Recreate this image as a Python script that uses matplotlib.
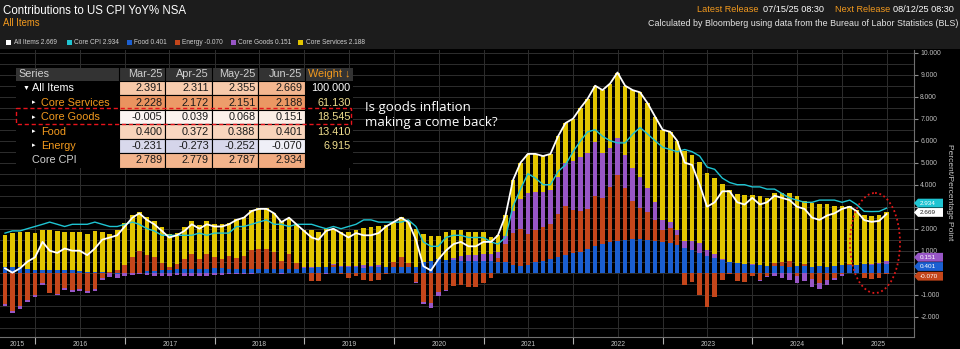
import numpy as np
import pandas as pd
import matplotlib
matplotlib.use('Agg')
import matplotlib.pyplot as plt
import matplotlib.dates as mdates
import matplotlib.transforms as mtransforms
from matplotlib.patches import Rectangle, Ellipse, Polygon
from matplotlib.ticker import MultipleLocator, FuncFormatter

plt.rcParams['font.family'] = ['Liberation Sans', 'DejaVu Sans']

# Monthly data, month-end Aug-2015 .. Jun-2025 (percent / percentage points)
months = pd.date_range('2015-08-31', '2025-06-30', freq='ME')

all_items = [
    0.2, 0.0, 0.2, 0.5, 0.7,                                        # 2015
    1.4, 1.0, 0.9, 1.1, 1.0, 1.0, 0.8, 1.1, 1.5, 1.6, 1.7, 2.1,    # 2016
    2.5, 2.7, 2.4, 2.2, 1.9, 1.6, 1.7, 1.9, 2.2, 2.0, 2.2, 2.1,    # 2017
    2.1, 2.2, 2.4, 2.5, 2.8, 2.9, 2.9, 2.7, 2.3, 2.5, 2.2, 1.9,    # 2018
    1.6, 1.5, 1.9, 2.0, 1.8, 1.6, 1.8, 1.7, 1.7, 1.8, 2.1, 2.3,    # 2019
    2.5, 2.3, 1.5, 0.3, 0.1, 0.6, 1.0, 1.3, 1.4, 1.2, 1.2, 1.4,    # 2020
    1.4, 1.7, 2.6, 4.2, 5.0, 5.4, 5.4, 5.3, 5.4, 6.2, 6.8, 7.0,    # 2021
    7.5, 7.9, 8.5, 8.3, 8.6, 9.1, 8.5, 8.3, 8.2, 7.7, 7.1, 6.5,    # 2022
    6.4, 6.0, 5.0, 4.9, 4.0, 3.0, 3.2, 3.7, 3.7, 3.2, 3.1, 3.4,    # 2023
    3.1, 3.2, 3.5, 3.4, 3.3, 3.0, 2.9, 2.5, 2.4, 2.6, 2.7, 2.9,    # 2024
    3.0, 2.8, 2.391, 2.311, 2.355, 2.669,                           # 2025
]

core_cpi = [
    1.8, 1.9, 1.9, 2.0, 2.1,
    2.2, 2.3, 2.2, 2.1, 2.2, 2.2, 2.2, 2.3, 2.2, 2.1, 2.1, 2.2,
    2.3, 2.2, 2.0, 1.9, 1.7, 1.7, 1.7, 1.7, 1.7, 1.8, 1.7, 1.8,
    1.8, 1.8, 2.1, 2.1, 2.2, 2.3, 2.4, 2.2, 2.2, 2.1, 2.2, 2.2,
    2.2, 2.1, 2.0, 2.1, 2.0, 2.1, 2.2, 2.4, 2.4, 2.3, 2.3, 2.3,
    2.3, 2.4, 2.1, 1.4, 1.2, 1.2, 1.6, 1.7, 1.7, 1.6, 1.6, 1.6,
    1.4, 1.3, 1.6, 3.0, 3.8, 4.5, 4.3, 4.0, 4.0, 4.6, 4.9, 5.5,
    6.0, 6.4, 6.5, 6.2, 6.0, 5.9, 5.9, 6.3, 6.6, 6.3, 6.0, 5.7,
    5.6, 5.5, 5.6, 5.5, 5.3, 4.8, 4.7, 4.3, 4.1, 4.0, 4.0, 3.9,
    3.9, 3.8, 3.8, 3.6, 3.4, 3.3, 3.2, 3.2, 3.3, 3.3, 3.3, 3.2,
    3.3, 3.1, 2.789, 2.779, 2.787, 2.934,
]

food = [
    0.24, 0.24, 0.24, 0.18, 0.12,
    0.12, 0.14, 0.12, 0.12, 0.10, 0.06, 0.05, 0.04, 0.01, -0.02, -0.04, -0.02,
    -0.02, -0.02, 0.07, 0.07, 0.12, 0.12, 0.15, 0.15, 0.16, 0.18, 0.19, 0.22,
    0.23, 0.18, 0.18, 0.19, 0.17, 0.19, 0.18, 0.18, 0.18, 0.17, 0.19, 0.22,
    0.22, 0.27, 0.28, 0.24, 0.27, 0.26, 0.24, 0.23, 0.24, 0.28, 0.27, 0.25,
    0.25, 0.25, 0.26, 0.48, 0.55, 0.62, 0.56, 0.56, 0.54, 0.54, 0.51, 0.54,
    0.53, 0.50, 0.49, 0.35, 0.32, 0.33, 0.47, 0.52, 0.63, 0.72, 0.82, 0.88,
    0.95, 1.08, 1.22, 1.29, 1.38, 1.42, 1.48, 1.53, 1.52, 1.47, 1.43, 1.39,
    1.35, 1.27, 1.14, 1.03, 0.90, 0.77, 0.66, 0.58, 0.50, 0.45, 0.39, 0.36,
    0.35, 0.30, 0.30, 0.30, 0.28, 0.30, 0.30, 0.28, 0.31, 0.28, 0.32, 0.34,
    0.34, 0.35, 0.400, 0.372, 0.388, 0.401,
]

energy = [
    -1.42, -1.73, -1.52, -1.24, -1.02,
    -0.46, -0.91, -0.95, -0.68, -0.78, -0.74, -0.85, -0.72, -0.22, 0.02, 0.12, 0.37,
    0.72, 1.00, 0.74, 0.64, 0.30, 0.16, 0.23, 0.45, 0.71, 0.45, 0.68, 0.50,
    0.40, 0.56, 0.51, 0.58, 0.86, 0.88, 0.90, 0.76, 0.37, 0.66, 0.24, -0.02,
    -0.36, -0.37, -0.03, 0.13, -0.05, -0.26, -0.15, -0.33, -0.36, -0.31, -0.04, 0.25,
    0.46, 0.21, -0.42, -1.32, -1.38, -0.88, -0.78, -0.62, -0.55, -0.64, -0.64, -0.47,
    -0.24, 0.15, 0.80, 1.45, 1.65, 1.45, 1.45, 1.55, 1.58, 1.95, 2.20, 1.98,
    1.84, 1.80, 2.26, 2.12, 2.50, 3.00, 2.37, 1.71, 1.43, 1.27, 0.97, 0.56,
    0.68, 0.45, -0.55, -0.44, -1.02, -1.54, -1.12, -0.32, -0.05, -0.36, -0.42, -0.15,
    -0.33, -0.14, 0.15, 0.19, 0.26, -0.14, 0.08, -0.29, -0.49, -0.35, -0.22, -0.04,
    0.07, -0.01, -0.231, -0.273, -0.252, -0.070,
]

core_goods = [
    -0.09, -0.09, -0.12, -0.09, -0.08,
    -0.08, -0.02, -0.06, -0.09, -0.09, -0.09, -0.09, -0.09, -0.12, -0.16, -0.18, -0.14,
    -0.08, -0.06, -0.12, -0.14, -0.16, -0.14, -0.12, -0.17, -0.17, -0.17, -0.15, -0.12,
    -0.10, -0.06, -0.05, -0.04, -0.04, -0.02, -0.03, -0.02, -0.04, 0.00, 0.03, 0.03,
    0.04, 0.00, -0.05, 0.04, 0.03, 0.05, 0.08, 0.10, 0.08, 0.06, -0.02, -0.02,
    -0.02, -0.02, -0.05, -0.12, -0.21, -0.18, -0.05, 0.10, 0.22, 0.27, 0.30, 0.32,
    0.30, 0.30, 0.38, 1.00, 1.40, 1.85, 1.75, 1.58, 1.55, 1.70, 1.95, 2.20,
    2.45, 2.55, 2.45, 2.04, 1.80, 1.70, 1.50, 1.52, 1.42, 1.10, 0.80, 0.45,
    0.28, 0.22, 0.32, 0.43, 0.43, 0.28, 0.17, 0.02, 0.00, -0.02, 0.00, 0.04,
    -0.06, -0.06, -0.13, -0.23, -0.32, -0.34, -0.36, -0.36, -0.23, -0.19, -0.13, -0.10,
    -0.02, -0.02, -0.005, 0.039, 0.068, 0.151,
]

core_services = [
    1.47, 1.58, 1.60, 1.65, 1.68,
    1.82, 1.79, 1.79, 1.75, 1.77, 1.77, 1.69, 1.87, 1.83, 1.76, 1.80, 1.89,
    1.88, 1.78, 1.71, 1.63, 1.64, 1.46, 1.44, 1.47, 1.50, 1.54, 1.48, 1.50,
    1.57, 1.52, 1.76, 1.77, 1.81, 1.85, 1.85, 1.78, 1.79, 1.67, 1.74, 1.67,
    1.70, 1.60, 1.70, 1.59, 1.55, 1.55, 1.63, 1.70, 1.74, 1.77, 1.89, 1.82,
    1.81, 1.86, 1.71, 1.26, 1.14, 1.04, 1.27, 1.26, 1.19, 1.03, 1.03, 1.01,
    0.81, 0.75, 0.93, 1.40, 1.63, 1.77, 1.73, 1.65, 1.64, 1.83, 1.83, 1.94,
    2.26, 2.47, 2.57, 2.85, 2.92, 2.98, 3.15, 3.54, 3.83, 3.86, 3.90, 4.10,
    4.09, 4.06, 4.09, 3.88, 3.69, 3.49, 3.49, 3.42, 3.25, 3.13, 3.13, 3.15,
    3.14, 3.10, 3.18, 3.14, 3.08, 3.18, 2.88, 2.87, 2.81, 2.86, 2.73, 2.70,
    2.61, 2.48, 2.228, 2.172, 2.151, 2.188,
]

# Table overlay (last four months)
table_months = ['Mar-25', 'Apr-25', 'May-25', 'Jun-25']
table_series = ['All Items', 'Core Services', 'Core Goods', 'Food', 'Energy', 'Core CPI']
table_values = [
    [2.391, 2.311, 2.355, 2.669],
    [2.228, 2.172, 2.151, 2.188],
    [-0.005, 0.039, 0.068, 0.151],
    [0.400, 0.372, 0.388, 0.401],
    [-0.231, -0.273, -0.252, -0.070],
    [2.789, 2.779, 2.787, 2.934],
]
table_weights = ['100.000', '61.130', '18.545', '13.410', '6.915', '']

YELLOW = '#e2c500'
BLUE = '#1b5fd1'
RED = '#c4461b'
PURPLE = '#9856c6'
CYAN = '#1fc4d2'
ORANGE = '#f39a1e'

fig = plt.figure(figsize=(9.6, 3.49), dpi=100, facecolor='black')
ax = fig.add_axes([0, 1 - 337 / 349, 914 / 960, 287 / 349])
ax.set_facecolor('black')

# stacked contribution bars (positives up, negatives down)
pos_base = np.zeros(len(months))
neg_base = np.zeros(len(months))
for vals, col in [(food, BLUE), (energy, RED), (core_goods, PURPLE), (core_services, YELLOW)]:
    v = np.array(vals)
    pos = np.where(v > 0, v, 0)
    neg = np.where(v < 0, v, 0)
    ax.bar(months, pos, width=19, bottom=pos_base, color=col, lw=0, zorder=2)
    ax.bar(months, neg, width=19, bottom=neg_base, color=col, lw=0, zorder=2)
    pos_base += pos
    neg_base += neg

ax.plot(months, core_cpi, color=CYAN, lw=1.0, zorder=3)
ax.plot(months, all_items, color='white', lw=1.3, zorder=4)

x0 = pd.Timestamp('2015-08-10 14:00')
x1 = pd.Timestamp('2025-10-20')
ax.set_xlim(x0, x1)
ax.set_ylim(-2.923, 10.123)

# axes styling
for s in ['left', 'top']:
    ax.spines[s].set_visible(False)
for s in ['right', 'bottom']:
    ax.spines[s].set_color('#707070')
    ax.spines[s].set_linewidth(0.8)

# the 0 and 3 labels sit under the last-value tags, as in Bloomberg
hidden_labels = (0, 3)
ax.yaxis.tick_right()
ax.set_yticks(np.arange(-2, 11))
ax.yaxis.set_minor_locator(MultipleLocator(0.5))
ax.yaxis.set_major_formatter(
    FuncFormatter(lambda v, p: '' if round(v) in hidden_labels else f'{v:.3f}'))
ax.tick_params(axis='y', which='major', length=3, color='#909090', labelcolor='#c0c0c0',
               labelsize=4.9, pad=1.5)
ax.tick_params(axis='y', which='minor', length=0)

ax.xaxis.set_major_locator(mdates.YearLocator())
ax.xaxis.set_minor_locator(mdates.MonthLocator(bymonth=7))
ax.xaxis.set_major_formatter(plt.NullFormatter())
ax.tick_params(axis='x', which='major', length=5, color='#b0b0b0', width=0.8)
ax.tick_params(axis='x', which='minor', length=0)
ax.grid(which='both', color='#2e2e2e', lw=0.7, zorder=0)
ax.set_axisbelow(True)

# year labels centred on the visible part of each year
for yr in range(2015, 2026):
    lo = max(pd.Timestamp(f'{yr}-01-01'), x0)
    hi = min(pd.Timestamp(f'{yr + 1}-01-01'), x1)
    mid = lo + (hi - lo) / 2
    ax.text(mdates.date2num(mid), -0.025, str(yr), transform=ax.get_xaxis_transform(),
            ha='center', va='center', fontsize=4.9, color='#c0c0c0')

# last-value tags on the right axis (shifted so they stack without hiding each other)
blend = mtransforms.blended_transform_factory(ax.transAxes, ax.transData)
tag_w, tag_tip, tag_h = 29 / 914, 4 / 914, 0.2
tags = [
    (all_items[-1], '#ffffff', '#222222', 0.07),
    (core_cpi[-1], CYAN, '#ffffff', 0.23),
    (food[-1], BLUE, '#ffffff', -0.12),
    (core_goods[-1], PURPLE, '#ffffff', 0.55),
    (energy[-1], RED, '#ffffff', -0.09),
]
for val, fc, tc, shift in tags:
    yc = val + shift
    ax.add_patch(Polygon([(1.0, yc), (1.0 + tag_tip, yc + tag_h), (1.0 + tag_w, yc + tag_h),
                          (1.0 + tag_w, yc - tag_h), (1.0 + tag_tip, yc - tag_h)],
                         closed=True, transform=blend, fc=fc, ec='none', clip_on=False, zorder=6))
    ax.text(1.0 + 6 / 914, yc, f'{val:.3f}', transform=blend, ha='left', va='center',
            fontsize=4.6, color=tc, zorder=7, clip_on=False)

# overlay in pixel coordinates for header, table and notes
ov = fig.add_axes([0, 0, 1, 1])
ov.set_xlim(0, 960)
ov.set_ylim(349, 0)
ov.axis('off')

ov.add_patch(Rectangle((0, 0), 960, 49, color='#1c1c1c', lw=0))
ov.text(3, 11, 'Contributions to US CPI YoY% NSA', fontsize=8.3, color='white', va='center')
ov.text(3, 23, 'All Items', fontsize=6.9, color=ORANGE, va='center')

ov.text(697, 9.5, 'Latest Release', fontsize=6.6, color=ORANGE, va='center')
ov.text(763, 9.5, '07/15/25 08:30', fontsize=6.6, color='white', va='center')
ov.text(835, 9.5, 'Next Release', fontsize=6.6, color=ORANGE, va='center')
ov.text(893, 9.5, '08/12/25 08:30', fontsize=6.6, color='white', va='center')
ov.text(958, 23, 'Calculated by Bloomberg using data from the Bureau of Labor Statistics (BLS)',
        fontsize=6.4, color='#e6e6e6', va='center', ha='right')

legend_items = [('All Items', all_items[-1], 'white', 6),
                ('Core CPI', core_cpi[-1], CYAN, 67),
                ('Food', food[-1], BLUE, 127),
                ('Energy', energy[-1], RED, 175),
                ('Core Goods', core_goods[-1], PURPLE, 231),
                ('Core Services', core_services[-1], YELLOW, 298)]
for name, val, col, lx in legend_items:
    ov.add_patch(Rectangle((lx, 39.5), 5, 5, color=col, lw=0))
    ov.text(lx + 7.5, 42, f'{name} {val:.3f}', fontsize=4.7, color='#d0d0d0', va='center')

# table
col_x = [16, 118.5, 165, 211.5, 258, 305, 353]
head_top, head_h, row_h = 67.5, 13.5, 14.45
cell_colors = [
    ['#f7c8a8', '#f8ccae', '#f7caab', '#f3b68f'],
    ['#ea935f', '#ec9a67', '#ed9d6b', '#eb9763'],
    ['#fbf4f2', '#fcf3ee', '#fcf1ea', '#fbeee5'],
    ['#f8d4bb', '#f9d7c0', '#f8d5bd', '#f8d4bb'],
    ['#d9d9ec', '#d5d5ea', '#d7d7eb', '#efeff7'],
    ['#f3b48c', '#f3b58d', '#f3b48c', '#f1ab80'],
]
table_bottom = head_top + head_h + row_h * len(table_series)
ov.add_patch(Rectangle((col_x[0], head_top), col_x[-1] - col_x[0], table_bottom - head_top,
                       color='black', lw=0))
ov.add_patch(Rectangle((col_x[0], head_top), col_x[-1] - col_x[0], head_h, color='#333333', lw=0))
for cx in col_x[1:-1]:
    ov.plot([cx, cx], [head_top, head_top + head_h], color='black', lw=0.8)
hy = head_top + head_h / 2
ov.text(18, hy, 'Series', fontsize=7.8, color='#d0d0d0', va='center')
for j, m in enumerate(table_months):
    ov.text(col_x[j + 2] - 2.5, hy, m, fontsize=7.8, color='#d0d0d0', va='center', ha='right')
ov.text(col_x[-1] - 2.5, hy, 'Weight \u2193', fontsize=7.8, color=ORANGE, va='center', ha='right')

row_style = [('\u25bc', 23, 32, 'white'), ('\u25b8', 32, 41, ORANGE), ('\u25b8', 32, 41, ORANGE),
             ('\u25b8', 32, 41, ORANGE), ('\u25b8', 32, 41, ORANGE), ('', 32, 32, '#d0d0d0')]
for i, name in enumerate(table_series):
    top = head_top + head_h + i * row_h
    cy = top + row_h / 2
    arrow, ax_x, nx, ncol = row_style[i]
    if arrow:
        ov.text(ax_x, cy, arrow, fontsize=5, color='white', va='center', ha='left')
    ov.text(nx, cy, name, fontsize=7.8, color=ncol, va='center', ha='left')
    for j, val in enumerate(table_values[i]):
        ov.add_patch(Rectangle((col_x[j + 1], top), col_x[j + 2] - col_x[j + 1], row_h,
                               fc=cell_colors[i][j], ec='black', lw=0.8))
        ov.text(col_x[j + 2] - 2.5, cy, f'{val:.3f}', fontsize=7.8, color='#1a1a1a',
                va='center', ha='right')
    ov.text(col_x[-1] - 2.5, cy, table_weights[i], fontsize=7.8,
            color='white' if i == 0 else '#f1df8e', va='center', ha='right')

# highlight core goods row
ov.add_patch(Rectangle((16, 108), 335, 15.5, fill=False, ec='#e8141c', ls=(0, (3, 2)), lw=1.0))

ov.text(365, 101, 'Is goods inflation\nmaking a come back?', fontsize=9.5, color='white',
        family=['Open Sans', 'DejaVu Sans'], va='top', ha='left', linespacing=1.2)

ov.add_patch(Ellipse((875, 243), 50, 100, fill=False, ec='#e01818', ls=(0, (1, 1.5)), lw=1.3))

ov.text(950, 192, 'Percent/Percentage Point', rotation=270, fontsize=6, color='#c8c8c8',
        ha='center', va='center')

fig.savefig('out.png', dpi=100, facecolor='black')
